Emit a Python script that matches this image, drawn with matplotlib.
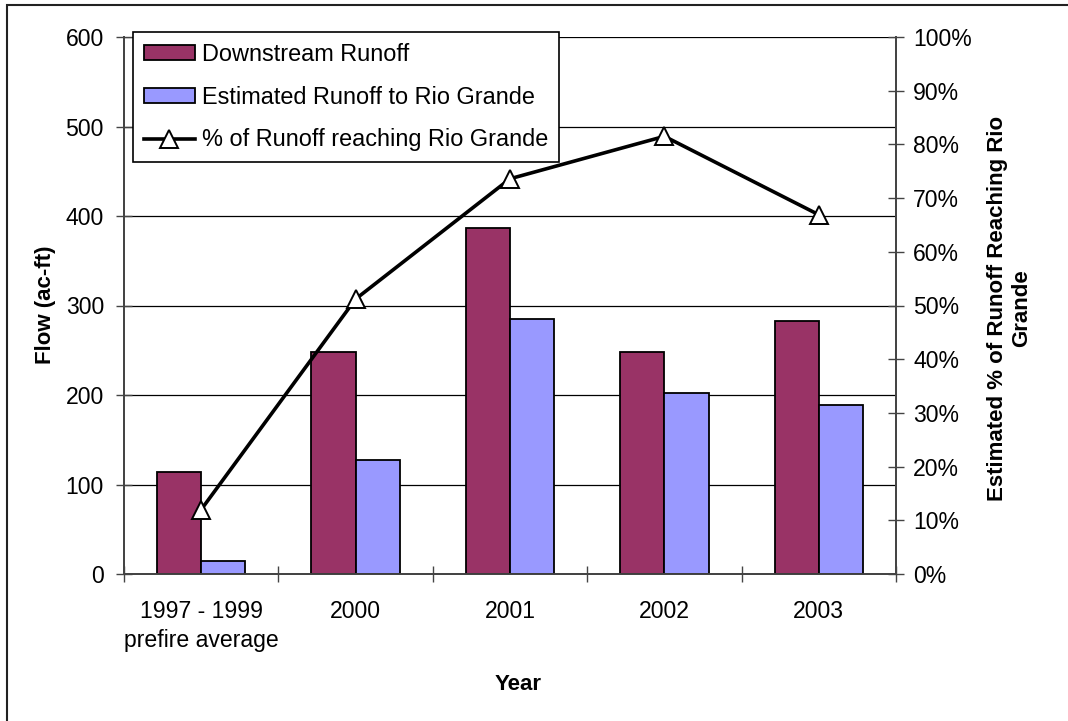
import matplotlib
matplotlib.use("Agg")
import matplotlib.pyplot as plt
from matplotlib.patches import Rectangle
import numpy as np

categories = ["1997 - 1999\nprefire average", "2000", "2001", "2002", "2003"]
downstream = [114, 248, 387, 248, 283]
estimated = [14.5, 127, 285, 202, 189]
pct_reaching = [12.0, 51.2, 73.6, 81.5, 66.9]

left_ticks = [0, 100, 200, 300, 400, 500, 600]
right_ticks = list(range(0, 101, 10))

plt.rcParams['font.family'] = ['Liberation Sans', 'DejaVu Sans']
FS = 16.6

W, H = 1068, 721
fig = plt.figure(figsize=(W / 100, H / 100), dpi=100)
ax = fig.add_axes([124 / W, 1 - 574 / H, (896 - 124) / W, (574 - 37) / H])
ax2 = ax.twinx()

x = np.arange(len(categories))
bw = 0.2857
c_down = "#993366"
c_est = "#9999FF"
b1 = ax.bar(x - bw / 2, downstream, bw, color=c_down, edgecolor="black", linewidth=1.3,
            label="Downstream Runoff", zorder=3)
b2 = ax.bar(x + bw / 2, estimated, bw, color=c_est, edgecolor="black", linewidth=1.3,
            label="Estimated Runoff to Rio Grande", zorder=3)

ln, = ax2.plot(x, pct_reaching, color="black", lw=2.6, marker="^", ms=13,
               mfc="white", mec="black", mew=1.4, label="% of Runoff reaching Rio Grande",
               zorder=4)

ax.set_xlim(-0.5, len(categories) - 0.5)
ax.set_ylim(0, 600)
ax2.set_ylim(0, 100)

ax.set_yticks(left_ticks)
ax.set_yticklabels([str(v) for v in left_ticks], fontsize=FS)
ax2.set_yticks(right_ticks)
ax2.set_yticklabels([f"{v}%" for v in right_ticks], fontsize=FS)

ax.set_xticks(x)
ax.set_xticklabels(categories, fontsize=FS, linespacing=1.3)
ax.set_xticks(np.arange(-0.5, len(categories) + 0.5, 1), minor=True)
ax.tick_params(axis="x", which="major", length=0, pad=19)
ax.tick_params(axis="x", which="minor", direction="inout", length=11, width=1, color="#444444")
ax.tick_params(axis="y", which="major", direction="inout", length=11, width=1,
               color="#444444", pad=9)
ax2.tick_params(axis="y", which="major", direction="inout", length=11, width=1,
                color="#444444", pad=7)

ax.yaxis.grid(True, color="black", lw=0.9)
ax.set_axisbelow(True)
ax.set_zorder(1)
ax2.set_zorder(2)
ax.patch.set_visible(False)

for a in (ax, ax2):
    a.spines["top"].set_visible(False)
    for s in ("left", "right", "bottom"):
        a.spines[s].set_color("#444444")
        a.spines[s].set_linewidth(1.3)

fig.text(45 / W, 1 - 305 / H, "Flow (ac-ft)", rotation=90, ha="center", va="center",
         fontsize=16, fontweight="bold")
fig.text(518 / W, 1 - 685 / H, "Year", ha="center", va="center",
         fontsize=16, fontweight="bold")
fig.text(1010 / W, 1 - 308 / H, "Estimated % of Runoff Reaching Rio\nGrande", rotation=90,
         ha="center", va="center", fontsize=16, fontweight="bold", linespacing=1.2,
         multialignment="center")

leg = fig.legend(handles=[b1, b2, ln], loc="upper left",
                 bbox_to_anchor=(133 / W, 1 - 32 / H), bbox_transform=fig.transFigure,
                 borderaxespad=0, fontsize=16.9, frameon=True, fancybox=False,
                 handlelength=2.2, handleheight=0.6, handletextpad=0.3, labelspacing=0.85,
                 borderpad=0.45, numpoints=1)
leg.get_frame().set_edgecolor("black")
leg.get_frame().set_linewidth(1.2)
leg.get_frame().set_alpha(1)
leg.set_zorder(10)

border = Rectangle((7 / W, -0.2), 1.5, 1.2 - 5 / H, transform=fig.transFigure,
                   fill=False, edgecolor="#222222", lw=1.5)
fig.add_artist(border)

fig.savefig("out.png", dpi=100)
